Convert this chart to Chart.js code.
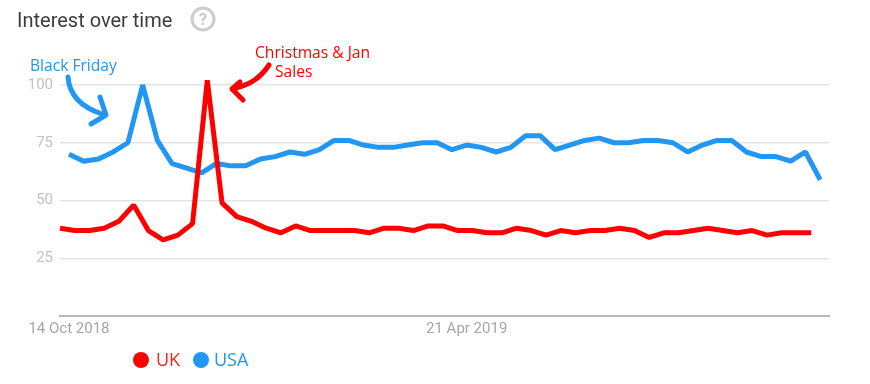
<!DOCTYPE html>
<html>
<head>
<meta charset="utf-8">
<title>Interest over time</title>
<script src="https://cdn.jsdelivr.net/npm/chart.js@4"></script>
<style>
  html, body { margin: 0; background: #fff; }
  #wrap { position: relative; width: 870px; height: 384px; overflow: hidden; }
  #trend-chart { position: absolute; left: 0; top: 0; }
  #arrows { position: absolute; left: 0; top: 0; }
  .label { position: absolute; white-space: nowrap; }
  #title { left: 17px; top: 8px; font: 20px Roboto, sans-serif; color: #3c3c3c; }
  #black-friday { left: 30px; top: 54px; font: 15.6px "Open Sans", sans-serif; color: #2196f3; }
  #christmas { left: 255px; top: 43px; font: 15.6px/19px "Open Sans", sans-serif; color: #ff0000; }
  #sales { left: 275px; top: 62px; font: 15.6px/19px "Open Sans", sans-serif; color: #ff0000; }
  .legend-dot { position: absolute; top: 352px; width: 16px; height: 16px; border-radius: 50%; }
  .legend-text { position: absolute; top: 347px; font: 18px "Open Sans", sans-serif; }
</style>
</head>
<body>
<div id="wrap">
  <canvas id="trend-chart" width="870" height="384"></canvas>
  <svg id="arrows" width="870" height="384" fill="none" stroke-linecap="round" stroke-linejoin="round">
    <path d="M68 77 C69 92 78 106 102 114" stroke="#2196f3" stroke-width="5"/>
    <path d="M100 97 L106 115 L91 124" stroke="#2196f3" stroke-width="5"/>
    <path d="M269 65 C259 80 248 85 233 89" stroke="#ff0000" stroke-width="5"/>
    <path d="M240 82 L232 89 L243 100" stroke="#ff0000" stroke-width="5"/>
    <circle cx="203" cy="19" r="11" stroke="#cccccc" stroke-width="3"/>
    <text x="203" y="25" text-anchor="middle" fill="#cccccc" stroke="none" font-family="Roboto, sans-serif" font-weight="700" font-size="17">?</text>
  </svg>
  <div class="label" id="title">Interest over time</div>
  <div class="label" id="black-friday">Black Friday</div>
  <div class="label" id="christmas">Christmas &amp; Jan</div>
  <div class="label" id="sales">Sales</div>
  <div class="legend-dot" style="left:133px;background:#ff0000"></div>
  <div class="legend-text" style="left:156px;color:#ff2020">UK</div>
  <div class="legend-dot" style="left:193px;background:#2196f3"></div>
  <div class="legend-text" style="left:214px;color:#2196f3">USA</div>
</div>
<script>
const ukValues = [38, 37, 37, 38, 41, 48, 37, 33, 35, 40, 102, 49, 43, 41, 38, 36, 39, 37, 37, 37, 37, 36, 38, 38, 37, 39, 39, 37, 37, 36, 36, 38, 37, 35, 37, 36, 37, 37, 38, 37, 34, 36, 36, 37, 38, 37, 36, 37, 35, 36, 36, 36];
const usaValues = [70, 67, 68, 71, 75, 100, 76, 66, 64, 62, 66, 65, 65, 68, 69, 71, 70, 72, 76, 76, 74, 73, 73, 74, 75, 75, 72, 74, 73, 71, 73, 78, 78, 72, 74, 76, 77, 75, 75, 76, 76, 75, 71, 74, 76, 76, 71, 69, 69, 67, 71, 59];
const yTicks = [0, 25, 50, 75, 100];
const xTickWeeks = [0, 27];
const xTickLabels = ['14 Oct 2018', '21 Apr 2019'];

// the red line sits a bit left of the blue one in the original screenshot
const ukWeekShift = -0.61;

const toPoints = (values, shift) => values.map((v, i) => ({ x: i + shift, y: v }));

new Chart(document.getElementById('trend-chart').getContext('2d'), {
  type: 'line',
  data: {
    datasets: [
      {
        label: 'UK',
        data: toPoints(ukValues, ukWeekShift),
        borderColor: '#ff0000',
        borderWidth: 5,
        borderJoinStyle: 'bevel',
        pointRadius: 0,
        tension: 0,
        clip: false
      },
      {
        label: 'USA',
        data: toPoints(usaValues, 0),
        borderColor: '#2196f3',
        borderWidth: 5,
        borderJoinStyle: 'bevel',
        pointRadius: 0,
        tension: 0,
        clip: false
      }
    ]
  },
  options: {
    responsive: false,
    animation: false,
    layout: { padding: { top: 85, right: 41, left: 0, bottom: 0 } },
    plugins: { legend: { display: false }, title: { display: false }, tooltip: { enabled: false } },
    scales: {
      x: {
        type: 'linear',
        min: ukWeekShift,
        max: 51.6,
        afterFit: scale => { scale.height = 68; },
        afterBuildTicks: scale => { scale.ticks = xTickWeeks.map(v => ({ value: v })); },
        grid: { display: false },
        border: { color: '#b8b8b8', width: 2 },
        ticks: {
          autoSkip: false,
          maxRotation: 0,
          padding: -4,
          color: '#a6a6a6',
          font: { family: 'Roboto', size: 15 },
          callback: value => xTickLabels[xTickWeeks.indexOf(value)]
        }
      },
      y: {
        min: 0,
        max: 100,
        afterFit: scale => { scale.width = 60; },
        afterBuildTicks: scale => { scale.ticks = yTicks.map(v => ({ value: v })); },
        border: { display: false },
        grid: {
          drawTicks: false,
          lineWidth: 1.5,
          color: ctx => (ctx.tick && ctx.tick.value === 0 ? 'rgba(0,0,0,0)' : '#e4e4e4')
        },
        ticks: {
          padding: 7,
          color: '#c2c2c2',
          font: { family: 'Roboto', size: 15 },
          callback: value => (value === 0 ? '' : value)
        }
      }
    }
  }
});
</script>
</body>
</html>
